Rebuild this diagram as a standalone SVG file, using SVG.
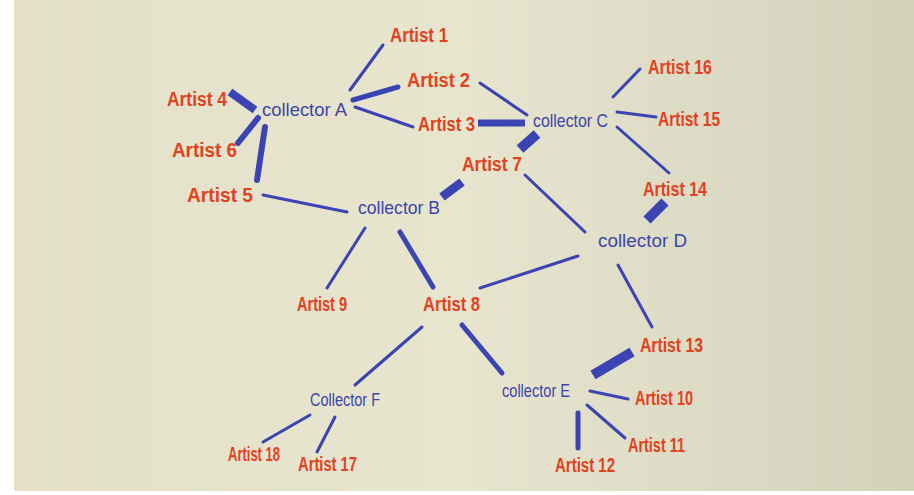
<svg xmlns="http://www.w3.org/2000/svg" width="914" height="495" viewBox="0 0 914 495">
<defs>
<linearGradient id="bg" x1="0" y1="0" x2="1" y2="0">
<stop offset="0" stop-color="#e4e0c8"/>
<stop offset="0.5" stop-color="#e8e5cf"/>
<stop offset="1" stop-color="#d2d2bb"/>
</linearGradient>
<style>
.art{font-family:"Liberation Sans Narrow","Liberation Sans",sans-serif;font-weight:bold;font-size:20px;fill:#e2421e}
.col{font-family:"Liberation Sans Narrow","Liberation Sans",sans-serif;font-size:19px;fill:#3c46aa}
.c line{stroke:#3a44b2;stroke-linecap:round}
.c .t{stroke-width:3}
.c .m{stroke-width:5}
.c .k{stroke-width:9;stroke-linecap:butt}
</style>
</defs>
<rect width="914" height="495" fill="#ffffff"/>
<rect x="14" y="0" width="900" height="491" fill="url(#bg)"/>
<g class="c" id="connectors">
<line class="t" x1="350" y1="90" x2="383" y2="45"/>
<line class="t" x1="355" y1="107" x2="413" y2="127"/>
<line class="t" x1="480" y1="83" x2="527" y2="115"/>
<line class="t" x1="263" y1="195" x2="347" y2="212"/>
<line class="t" x1="525" y1="175" x2="585" y2="232"/>
<line class="t" x1="613" y1="97" x2="640" y2="69"/>
<line class="t" x1="617" y1="112" x2="656" y2="117"/>
<line class="t" x1="617" y1="127" x2="669" y2="173"/>
<line class="t" x1="578" y1="256" x2="480" y2="288"/>
<line class="t" x1="618" y1="265" x2="652" y2="327"/>
<line class="t" x1="365" y1="228" x2="327" y2="288"/>
<line class="t" x1="422" y1="327" x2="355" y2="385"/>
<line class="t" x1="310" y1="415" x2="263" y2="442"/>
<line class="t" x1="335" y1="417" x2="317" y2="452"/>
<line class="t" x1="590" y1="391" x2="628" y2="399"/>
<line class="t" x1="587" y1="405" x2="625" y2="438"/>
<line class="m" x1="353" y1="100" x2="398" y2="87"/>
<line class="m" x1="400" y1="232" x2="433" y2="287"/>
<line class="m" x1="462" y1="325" x2="502" y2="373"/>
<line class="m" x1="578" y1="413" x2="578" y2="448"/>
<line class="m" style="stroke-width:6" x1="265" y1="127" x2="257" y2="180"/>
<line class="m" style="stroke-width:6" x1="258" y1="118" x2="238" y2="143"/>
<line class="k" style="stroke-width:8" x1="230" y1="92" x2="255" y2="110"/>
<line class="k" style="stroke-width:7" x1="478" y1="123" x2="525" y2="123"/>
<line class="k" x1="442" y1="197" x2="462" y2="182"/>
<line class="k" style="stroke-width:10" x1="520" y1="149" x2="537" y2="134"/>
<line class="k" style="stroke-width:10" x1="665" y1="202" x2="647" y2="220"/>
<line class="k" style="stroke-width:10" x1="593" y1="375" x2="632" y2="352"/>
</g>
<g id="collector-a"><text class="col" x="262" y="116" textLength="85" lengthAdjust="spacingAndGlyphs">collector A</text></g>
<g id="collector-b"><text class="col" x="358" y="214" textLength="82" lengthAdjust="spacingAndGlyphs">collector B</text></g>
<g id="collector-c"><text class="col" x="533" y="127" textLength="75" lengthAdjust="spacingAndGlyphs">collector C</text></g>
<g id="collector-d"><text class="col" x="598" y="247" textLength="89" lengthAdjust="spacingAndGlyphs">collector D</text></g>
<g id="collector-e"><text class="col" x="502" y="397" textLength="68" lengthAdjust="spacingAndGlyphs">collector E</text></g>
<g id="collector-f"><text class="col" x="310" y="406" textLength="70" lengthAdjust="spacingAndGlyphs">Collector F</text></g>
<g id="artist-1"><text class="art" x="390" y="42" textLength="58" lengthAdjust="spacingAndGlyphs">Artist 1</text></g>
<g id="artist-2"><text class="art" x="407" y="87" textLength="63" lengthAdjust="spacingAndGlyphs">Artist 2</text></g>
<g id="artist-3"><text class="art" x="418" y="131" textLength="57" lengthAdjust="spacingAndGlyphs">Artist 3</text></g>
<g id="artist-4"><text class="art" x="167" y="106" textLength="60" lengthAdjust="spacingAndGlyphs">Artist 4</text></g>
<g id="artist-6"><text class="art" x="172" y="157" textLength="65" lengthAdjust="spacingAndGlyphs">Artist 6</text></g>
<g id="artist-5"><text class="art" x="187" y="202" font-size="24" textLength="66" lengthAdjust="spacingAndGlyphs">Artist 5</text></g>
<g id="artist-7"><text class="art" x="462" y="171" textLength="60" lengthAdjust="spacingAndGlyphs">Artist 7</text></g>
<g id="artist-16"><text class="art" x="648" y="74" textLength="64" lengthAdjust="spacingAndGlyphs">Artist 16</text></g>
<g id="artist-15"><text class="art" x="658" y="126" textLength="62" lengthAdjust="spacingAndGlyphs">Artist 15</text></g>
<g id="artist-14"><text class="art" x="643" y="196" textLength="64" lengthAdjust="spacingAndGlyphs">Artist 14</text></g>
<g id="artist-9"><text class="art" x="297" y="311" textLength="50" lengthAdjust="spacingAndGlyphs">Artist 9</text></g>
<g id="artist-8"><text class="art" x="423" y="311" textLength="57" lengthAdjust="spacingAndGlyphs">Artist 8</text></g>
<g id="artist-13"><text class="art" x="640" y="352" textLength="63" lengthAdjust="spacingAndGlyphs">Artist 13</text></g>
<g id="artist-10"><text class="art" x="635" y="405" textLength="58" lengthAdjust="spacingAndGlyphs">Artist 10</text></g>
<g id="artist-11"><text class="art" x="628" y="452" textLength="57" lengthAdjust="spacingAndGlyphs">Artist 11</text></g>
<g id="artist-12"><text class="art" x="555" y="472" textLength="60" lengthAdjust="spacingAndGlyphs">Artist 12</text></g>
<g id="artist-18"><text class="art" x="228" y="461" font-size="17" textLength="52" lengthAdjust="spacingAndGlyphs">Artist 18</text></g>
<g id="artist-17"><text class="art" x="298" y="471" font-size="17" textLength="59" lengthAdjust="spacingAndGlyphs">Artist 17</text></g>
</svg>
